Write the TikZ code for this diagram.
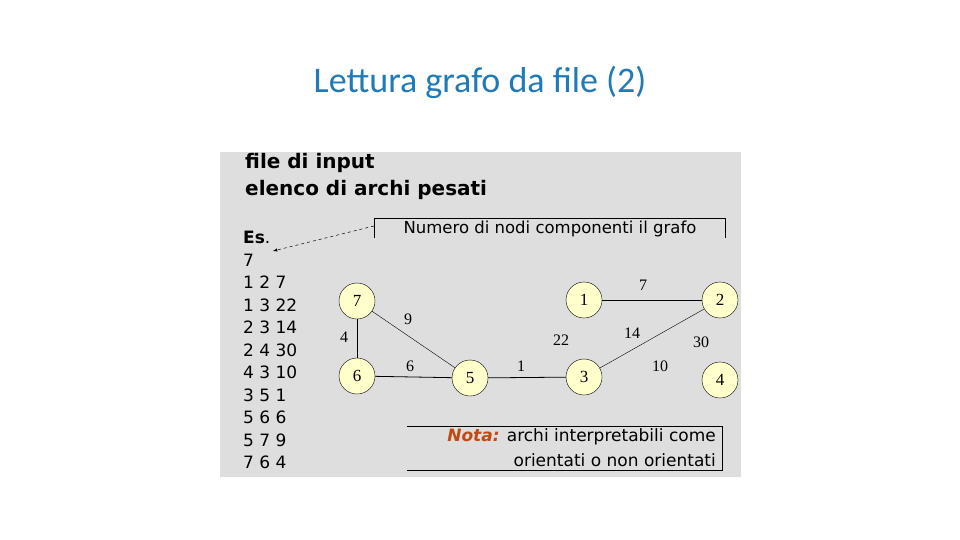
\documentclass[tikz,border=0pt]{standalone}
\usepackage{fontspec}
\setmainfont{DejaVu Sans}
\newfontfamily\titlefont{Carlito}
\newfontfamily\serifnum{Liberation Serif}
\definecolor{titleblue}{HTML}{1F7AB8}
\definecolor{panel}{HTML}{DEDEDE}
\definecolor{nodefill}{HTML}{FFFFCC}
\definecolor{notacol}{HTML}{C04A12}
\begin{document}
\begin{tikzpicture}[x=1pt,y=-1pt,
  gn/.style={circle,draw,fill=nodefill,minimum size=36pt,inner sep=0pt,font=\serifnum\fontsize{17}{17}\selectfont},
  wl/.style={font=\serifnum\fontsize{16}{16}\selectfont},
  ed/.style={draw,line width=0.8pt},
  thin ed/.style={draw,line width=0.4pt},
  lst/.style={anchor=west,font=\fontsize{17}{17}\selectfont,inner sep=0pt}]
\useasboundingbox (0,0) rectangle (960,540);
\fill[white] (0,0) rectangle (960,540);
\fill[panel] (220,152) rectangle (741,477);
\node[font=\titlefont\fontsize{36}{36}\selectfont,text=titleblue] (title) at (480,82) {Lettura grafo da file (2)};
\node[anchor=west,font=\bfseries\fontsize{20}{20}\selectfont,inner sep=0pt] (h1) at (245,163) {file di input};
\node[anchor=west,font=\bfseries\fontsize{20}{20}\selectfont,inner sep=0pt] (h2) at (245,190) {elenco di archi pesati};
\node[lst,font=\bfseries\fontsize{17}{17}\selectfont] (es) at (243,237) {Es\normalfont.};
\foreach \t [count=\i from 0] in {7,1 2 7,1 3 22,2 3 14,2 4 30,4 3 10,3 5 1,5 6 6,5 7 9,7 6 4}
  \node[lst] (l\i) at (243,{260+22.5*\i}) {\t};
% box numero
\node[font=\fontsize{16.5}{16.5}\selectfont,inner sep=0pt] (num) at (550,229) {Numero di nodi componenti il grafo};
\draw[line width=0.7pt] (374,238) -- (374,218) -- (725,218) -- (725,238);
\coordinate (ns) at (374,226);
\coordinate (ne) at (273,251);
\draw[dashed,line width=0.5pt,-latex] (ns) -- (ne);
% graph
\node[gn] (n7) at (357,301) {7};
\node[gn] (n6) at (357,376) {6};
\node[gn] (n5) at (470,378) {5};
\node[gn] (n1) at (584,300) {1};
\node[gn] (n2) at (720,300) {2};
\node[gn] (n3) at (584,377) {3};
\node[gn] (n4) at (720,380) {4};
\path[ed] (n1) -- (n2);
\path[ed] (n7) -- (n6);
\path[ed] (n6) -- (n5);
\path[ed] (n5) -- (n3);
\path[thin ed] (n7) -- (n5);
\path[thin ed] (n3) -- (n2);
\node[wl] (w7) at (643,285) {7};
\node[wl] (w9) at (408,319) {9};
\node[wl] (w4) at (344,337) {4};
\node[wl] (w6) at (410,366) {6};
\node[wl] (w1) at (521,366) {1};
\node[wl] (w22) at (561,340) {22};
\node[wl] (w14) at (632,333) {14};
\node[wl] (w30) at (701,342) {30};
\node[wl] (w10) at (660,366) {10};
% nota
\draw[line width=0.7pt] (407,426) -- (722,426) -- (722,470) -- (407,470);
\node[anchor=east,font=\fontsize{17}{17}\selectfont,inner sep=0pt] (nota1) at (716,437) {\textcolor{notacol}{\bfseries\itshape Nota:} archi interpretabili come};
\node[anchor=east,font=\fontsize{17}{17}\selectfont,inner sep=0pt] (nota2) at (716,460) {orientati o non orientati};
\end{tikzpicture}
\end{document}
